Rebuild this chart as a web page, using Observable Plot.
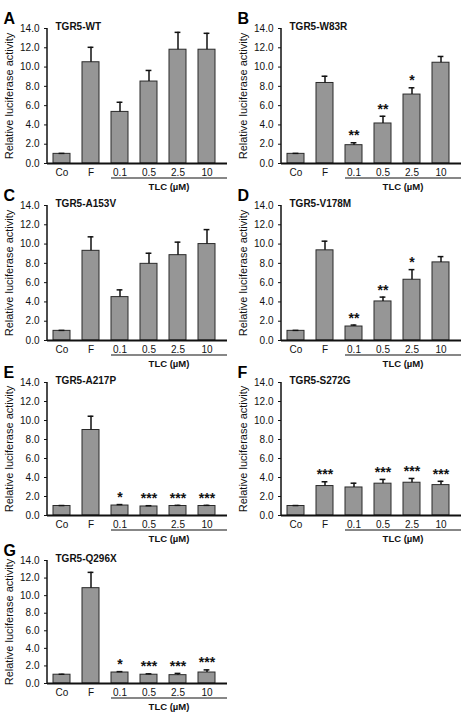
<!DOCTYPE html>
<html><head><meta charset="utf-8">
<script src="https://cdn.jsdelivr.net/npm/d3@7"></script>
<script src="https://cdn.jsdelivr.net/npm/@observablehq/plot@0.6"></script>
<style>
html,body{margin:0;padding:0;background:#fff;overflow:hidden;}
#fig{position:relative;width:468px;height:714px;overflow:hidden;font-family:"Liberation Sans",Arial,sans-serif;}
#fig svg{position:absolute;}
</style></head><body><div id="fig"></div>
<script>
// ---- data ----
const categories = ["Co", "F", "0.1", "0.5", "2.5", "10"];
const tlcStart = "0.1";
const panelLetters = ["A", "B", "C", "D", "E", "F", "G"];
const panelTitles = ["TGR5-WT", "TGR5-W83R", "TGR5-A153V", "TGR5-V178M", "TGR5-A217P", "TGR5-S272G", "TGR5-Q296X"];
const yTicks = [0, 2, 4, 6, 8, 10, 12, 14];
const xGroupLabel = "TLC (µM)";
const yLabel = "Relative luciferase activity";

const wtMean   = [1.0, 10.5, 5.35, 8.5, 11.8, 11.8];
const wtErr    = [0.05, 1.55, 1.0, 1.15, 1.8, 1.7];
const wtStars  = ["", "", "", "", "", ""];

const w83rMean  = [1.0, 8.35, 1.9, 4.15, 7.15, 10.45];
const w83rErr   = [0.05, 0.7, 0.25, 0.75, 0.7, 0.65];
const w83rStars = ["", "", "**", "**", "*", ""];

const a153vMean  = [1.0, 9.3, 4.5, 7.95, 8.85, 10.0];
const a153vErr   = [0.05, 1.45, 0.75, 1.1, 1.35, 1.5];
const a153vStars = ["", "", "", "", "", ""];

const v178mMean  = [1.0, 9.35, 1.45, 4.05, 6.3, 8.1];
const v178mErr   = [0.05, 0.95, 0.15, 0.45, 1.05, 0.6];
const v178mStars = ["", "", "**", "**", "*", ""];

const a217pMean  = [1.0, 9.0, 1.05, 0.95, 1.0, 1.0];
const a217pErr   = [0.05, 1.45, 0.1, 0.08, 0.07, 0.07];
const a217pStars = ["", "", "*", "***", "***", "***"];

const s272gMean  = [1.0, 3.1, 2.95, 3.35, 3.45, 3.2];
const s272gErr   = [0.05, 0.45, 0.45, 0.45, 0.45, 0.4];
const s272gStars = ["", "***", "", "***", "***", "***"];

const q296xMean  = [1.0, 10.85, 1.25, 1.0, 0.95, 1.25];
const q296xErr   = [0.05, 1.8, 0.1, 0.1, 0.2, 0.3];
const q296xStars = ["", "", "*", "***", "***", "***"];

const means = [wtMean, w83rMean, a153vMean, v178mMean, a217pMean, s272gMean, q296xMean];
const errs  = [wtErr, w83rErr, a153vErr, v178mErr, a217pErr, s272gErr, q296xErr];
const stars = [wtStars, w83rStars, a153vStars, v178mStars, a217pStars, s272gStars, q296xStars];

// ---- layout ----
const rowTop  = [28, 205, 382, 560];
const rowZero = [163, 340, 515, 683];
const ML = 47, MT = 28, MB = 32, W = 234;
const FONT = "Liberation Sans, Arial, sans-serif";
const fig = document.getElementById("fig");

panelTitles.forEach((title, i) => {
  const col = i % 2, row = Math.floor(i / 2);
  const data = categories.map((c, j) => ({cat: c, v: means[i][j], e: errs[i][j], s: stars[i][j]}));
  const plotH = rowZero[row] - rowTop[row];

  const axisLine = (index, {y}, values, dims) =>
    d3.create("svg:line")
      .attr("x1", dims.marginLeft).attr("x2", dims.marginLeft)
      .attr("y1", y(0)).attr("y2", y(14))
      .attr("stroke", "#111").attr("stroke-width", 1.5).node();

  const groupLabel = (index, {x}, values, dims) => {
    const g = d3.create("svg:g");
    const x1 = x(tlcStart), x2 = dims.width - dims.marginRight;
    const yb = dims.height - dims.marginBottom;
    g.append("line").attr("x1", x1).attr("x2", x2).attr("y1", yb + 15).attr("y2", yb + 15)
      .attr("stroke", "#111").attr("stroke-width", 1.2);
    g.append("text").attr("x", (x1 + x2) / 2).attr("y", yb + 27)
      .attr("text-anchor", "middle").attr("font-weight", "bold").attr("font-size", 9.5)
      .attr("fill", "#111").attr("font-family", FONT).text(xGroupLabel);
    return g.node();
  };

  const chart = Plot.plot({
    width: W, height: MT + plotH + MB,
    marginLeft: ML, marginTop: MT, marginBottom: MB, marginRight: 7,
    style: {background: "transparent", overflow: "visible", fontFamily: FONT, fontSize: "10px", color: "#111"},
    x: {domain: categories, range: [ML, 221], paddingInner: 0.43, paddingOuter: 0.215, label: null},
    y: {domain: [0, 14], label: null},
    marks: [
      Plot.barY(data, {x: "cat", y: "v", fill: "#969696", stroke: "#2a2a2a", strokeWidth: 1}),
      Plot.ruleX(data, {x: "cat", y1: "v", y2: d => d.v + d.e, stroke: "#111", strokeWidth: 1.5}),
      Plot.tickY(data, {x: "cat", y: d => d.v + d.e, stroke: "#111", strokeWidth: 1.5, insetLeft: 5.6, insetRight: 5.6}),
      Plot.text(data.filter(d => d.s), {x: "cat", y: d => d.v + d.e, text: "s", dy: -7, lineAnchor: "middle",
        fontSize: 14, fontWeight: "bold", fill: "#111"}),
      Plot.axisY({ticks: yTicks, tickFormat: d => d.toFixed(1), tickSize: 3, tickPadding: 5, fontSize: 10, label: null}),
      Plot.axisX({tickSize: 0, tickPadding: 5, fontSize: 10, label: null}),
      Plot.ruleY([0], {stroke: "#111", strokeWidth: 2}),
      axisLine,
      groupLabel,
      Plot.text([yLabel], {frameAnchor: "left", textAnchor: "middle", rotate: -90, dx: -38, fontSize: 11, lineAnchor: "middle", fill: "#111"}),
      Plot.text([title], {frameAnchor: "top-left", textAnchor: "start", lineAnchor: "middle", dx: 8, dy: -1.5,
        fontSize: 10, fontWeight: "bold", fill: "#111"}),
      Plot.text([panelLetters[i]], {frameAnchor: "top-left", textAnchor: "start", lineAnchor: "middle", dx: -44, dy: -10,
        fontSize: 16, fontWeight: "bold", fill: "#000"})
    ]
  });
  chart.style.left = (col * W) + "px";
  chart.style.top = (rowTop[row] - MT) + "px";
  fig.appendChild(chart);
});
</script>
</body></html>
